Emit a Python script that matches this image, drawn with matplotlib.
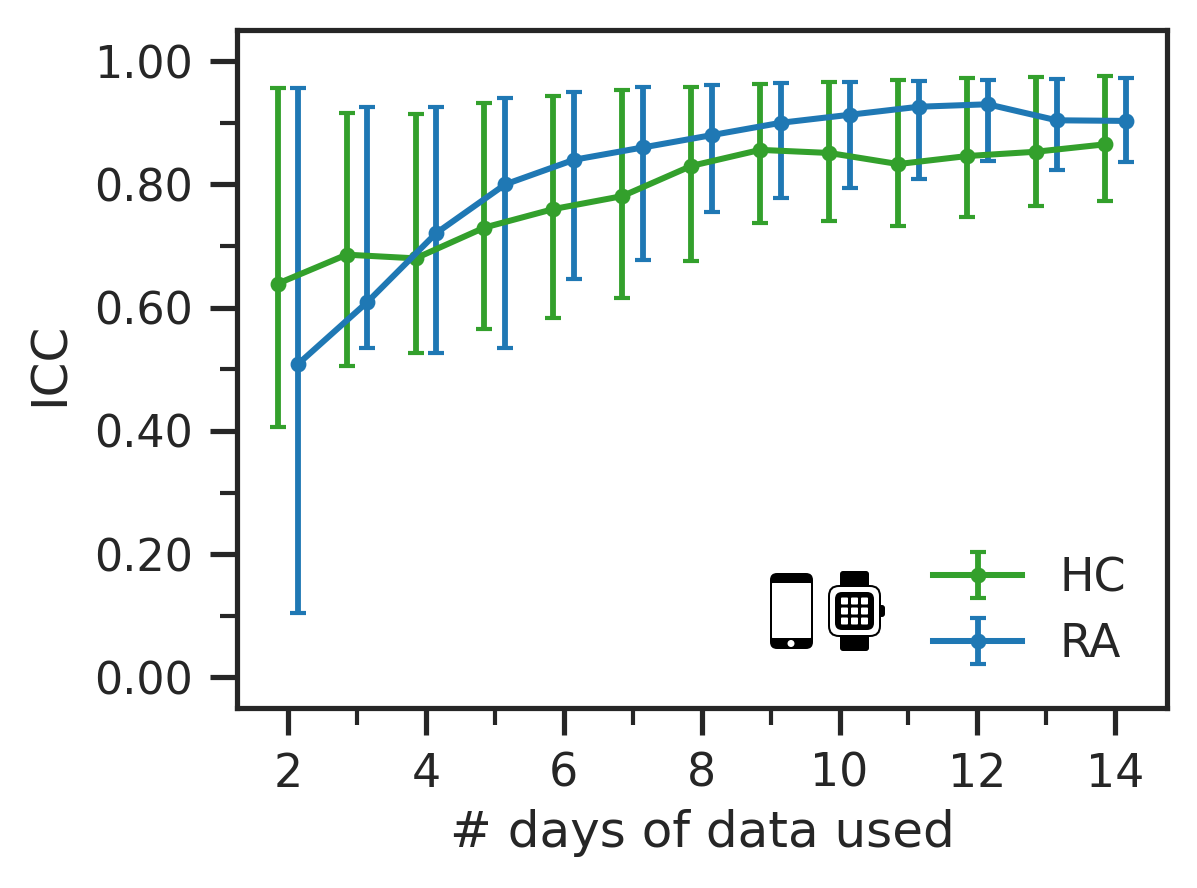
import numpy as np
import matplotlib
matplotlib.use("Agg")
import matplotlib.pyplot as plt
from matplotlib.patches import FancyBboxPatch, Circle
from matplotlib.ticker import MultipleLocator, FormatStrFormatter

days = [2, 3, 4, 5, 6, 7, 8, 9, 10, 11, 12, 13, 14]
hc_mean = [.639, .686, .680, .730, .760, .781, .830, .856, .851, .833, .846, .853, .865]
hc_low = [.407, .506, .527, .566, .583, .616, .676, .737, .740, .733, .747, .765, .773]
hc_high = [.956, .916, .914, .932, .943, .953, .958, .963, .966, .970, .973, .975, .976]
ra_mean = [.509, .609, .721, .800, .840, .860, .880, .900, .913, .926, .930, .904, .903]
ra_low = [.105, .535, .527, .535, .647, .677, .755, .778, .794, .809, .838, .823, .836]
ra_high = [.956, .925, .925, .940, .950, .958, .962, .964, .966, .968, .970, .971, .973]

GREEN = "#33a02c"
BLUE = "#1f78b4"
DARK = "#262626"
W, H = 1197, 888

plt.rcParams.update({"font.family": "DejaVu Sans", "font.size": 11, "text.color": DARK,
                     "axes.labelcolor": DARK, "xtick.color": DARK, "ytick.color": DARK,
                     "axes.edgecolor": DARK})
fig = plt.figure(figsize=(W / 300, H / 300), dpi=300)
ax = fig.add_axes([237 / W, 1 - 708 / H, (1167 - 237) / W, (708 - 30) / H])


def series(m, lo, hi, shift, color, label):
    x = np.array(days) + shift
    m, lo, hi = map(np.array, (m, lo, hi))
    return ax.errorbar(x, m, yerr=[m - lo, hi - m], color=color, label=label, marker="o",
                       ms=2.8, lw=1.45, elinewidth=1.4, capsize=2, capthick=1.0)


series(hc_mean, hc_low, hc_high, -0.15, GREEN, "HC")
series(ra_mean, ra_low, ra_high, 0.15, BLUE, "RA")

ax.set_xlim(1.26, 14.75)
ax.set_ylim(-0.0495, 1.0505)
ax.xaxis.set_major_locator(MultipleLocator(2))
ax.xaxis.set_minor_locator(MultipleLocator(1))
ax.yaxis.set_major_locator(MultipleLocator(0.2))
ax.yaxis.set_minor_locator(MultipleLocator(0.1))
ax.yaxis.set_major_formatter(FormatStrFormatter("%.2f"))
ax.tick_params(which="major", length=6.5, width=1.25, labelsize=11, pad=4)
ax.tick_params(axis="y", which="major", labelsize=10.7, pad=4)
ax.tick_params(which="minor", length=4, width=1.0)
for s in ax.spines.values():
    s.set_linewidth(1.25)
ax.set_xlabel("# days of data used", fontsize=12, labelpad=3)
ax.set_ylabel("ICC", fontsize=12, labelpad=5, y=0.507)
ax.legend(loc="lower right", frameon=False, fontsize=11, bbox_to_anchor=(1.0, 0.0),
          handlelength=1.95, handletextpad=0.8, labelspacing=0.45)

pix = matplotlib.transforms.Affine2D().scale(fig.bbox.width / W, fig.bbox.height / H)


# phone and watch icons, placed in figure pixels
def rbox(x0, y0, x1, y1, r, fc):
    p = FancyBboxPatch((x0 + r, H - y1 + r), x1 - x0 - 2 * r, y1 - y0 - 2 * r,
                       boxstyle=f"round,pad={r},rounding_size={r}", fc=fc, ec="none", lw=0,
                       transform=pix, zorder=5, clip_on=False)
    fig.add_artist(p)


# phone
rbox(770, 573, 813, 649, 7, "black")
rbox(772, 583, 811, 638, 0.5, "white")
fig.add_artist(Circle((791, H - 643.5), 3.5, fc="white", ec="none", transform=pix, zorder=6))
# watch
rbox(840, 571, 869, 651, 3, "black")
rbox(878, 605, 885, 617, 3, "black")
rbox(828, 585, 881, 637, 11, "black")
rbox(830, 587, 879, 635, 9, "white")
rbox(835, 592, 874, 630, 7, "black")
for cx in (844.5, 854.5, 864.5):
    for cy in (601, 611, 621):
        rbox(cx - 3.5, cy - 3.5, cx + 3.5, cy + 3.5, 1, "white")

fig.savefig("out.png", dpi=300)
